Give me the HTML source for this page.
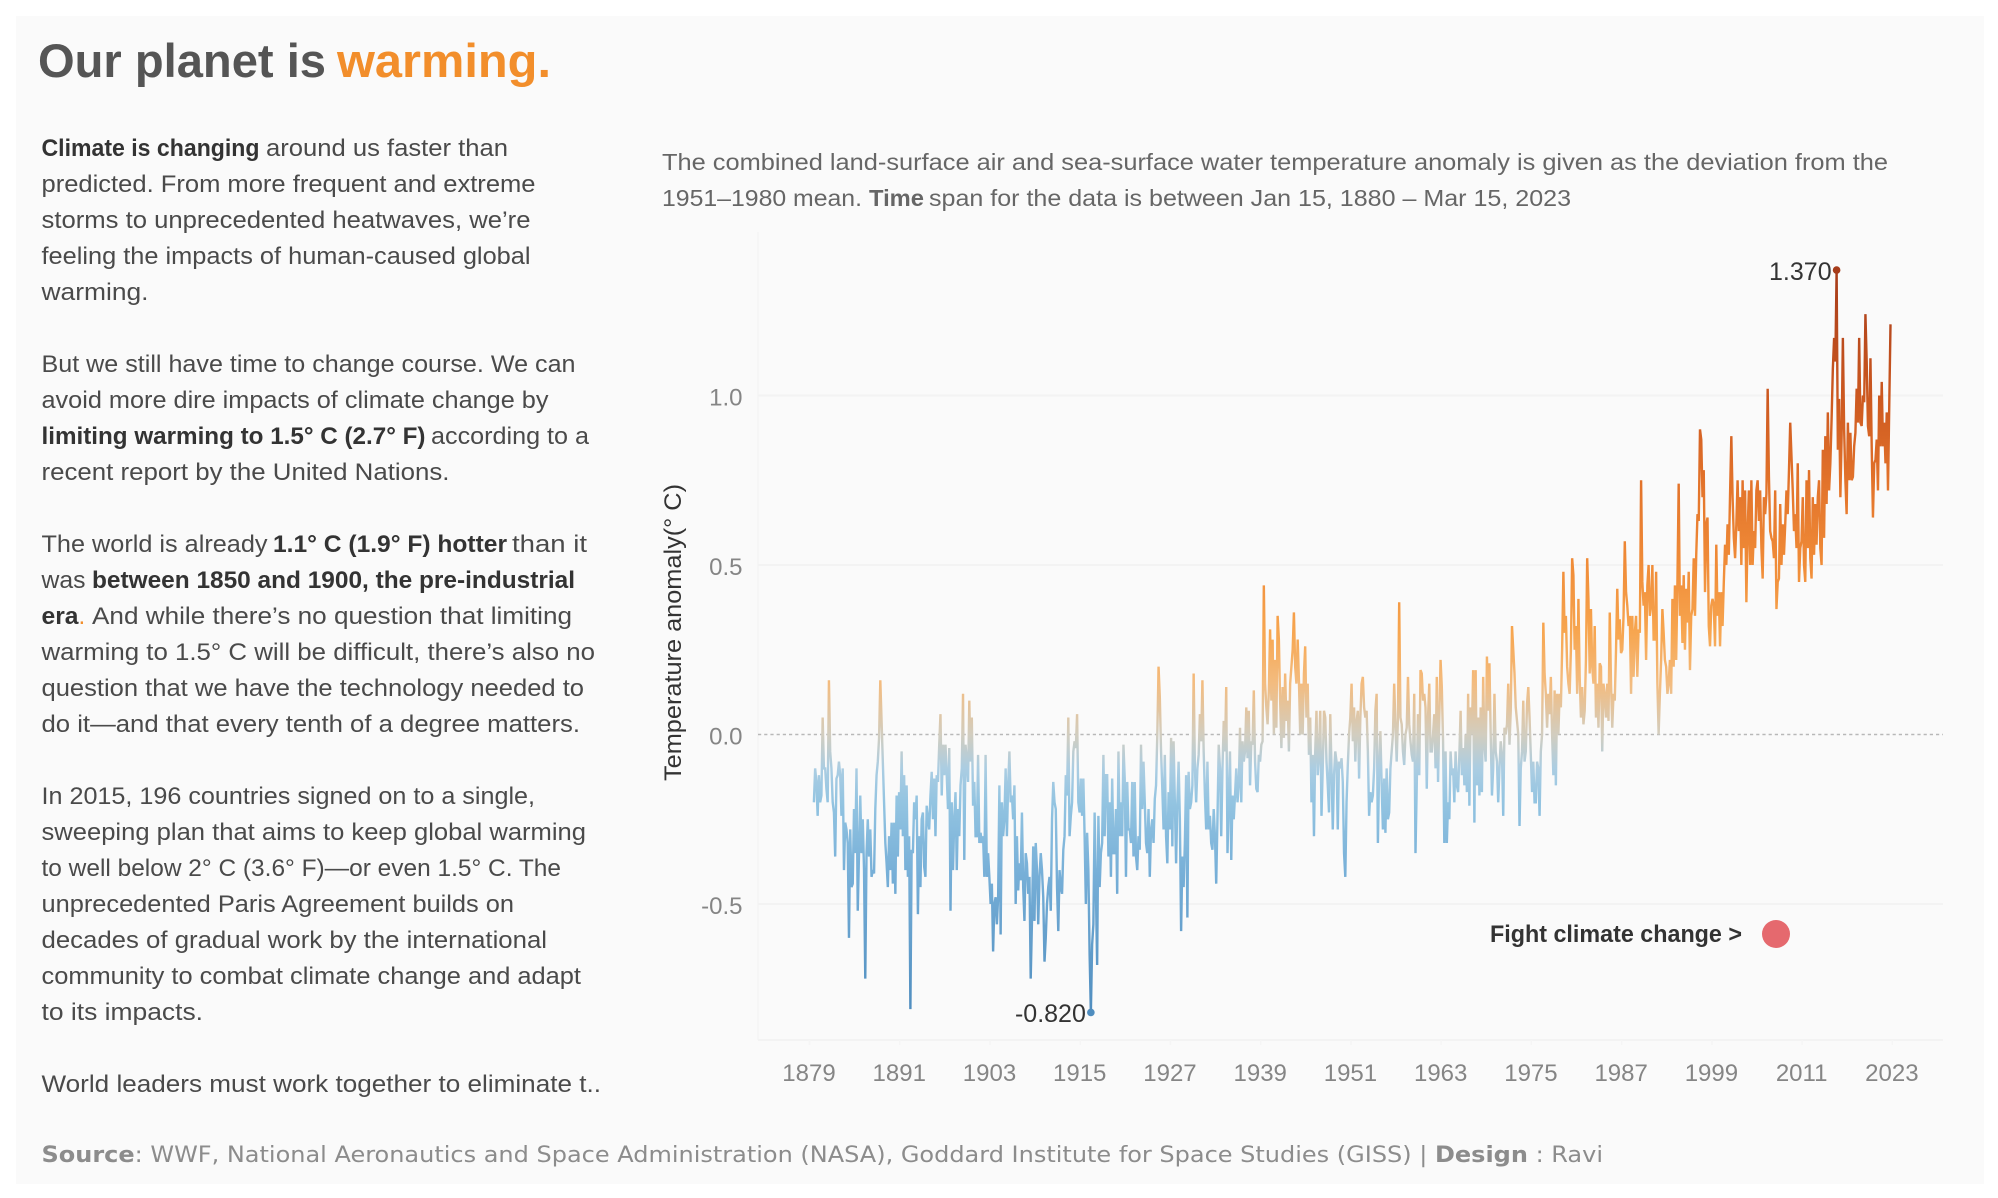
<!DOCTYPE html>
<html lang="en">
<head>
<meta charset="utf-8">
<title>Our planet is warming</title>
<style>
html,body{margin:0;padding:0;background:#fff;width:1998px;height:1198px;overflow:hidden}
svg{display:block;font-family:"Liberation Sans",Arial,sans-serif}
.b{font-size:24px;fill:#4a4a4a}
.s{font-size:24px;font-weight:700;fill:#333}
.sub{font-size:23px;fill:#666}
.subb{font-size:23px;fill:#666;font-weight:700}
.src{font-family:"DejaVu Sans",sans-serif;font-size:22.5px;fill:#8c8c8c}
.src tspan{font-weight:700}
</style>
</head>
<body>
<svg id="root" xmlns="http://www.w3.org/2000/svg" width="1998" height="1198" viewBox="0 0 1998 1198">
<rect x="16" y="16" width="1968" height="1168" fill="#fafafa"/>
<text x="38" y="77" font-size="47" font-weight="700" fill="#555" textLength="288" lengthAdjust="spacingAndGlyphs">Our planet is</text>
<text x="337" y="77" font-size="47" font-weight="700" fill="#f28e2b" textLength="214" lengthAdjust="spacingAndGlyphs">warming.</text>

<g>
<text class="s" x="41.5" y="156" textLength="218" lengthAdjust="spacingAndGlyphs">Climate is changing</text>
<text class="b" x="266" y="156" textLength="242" lengthAdjust="spacingAndGlyphs">around us faster than</text>
<text class="b" x="41.5" y="192" textLength="494" lengthAdjust="spacingAndGlyphs">predicted. From more frequent and extreme</text>
<text class="b" x="41.5" y="228" textLength="489" lengthAdjust="spacingAndGlyphs">storms to unprecedented heatwaves, we’re</text>
<text class="b" x="41.5" y="264" textLength="489" lengthAdjust="spacingAndGlyphs">feeling the impacts of human-caused global</text>
<text class="b" x="41.5" y="300" textLength="107" lengthAdjust="spacingAndGlyphs">warming.</text>
<text class="b" x="41.5" y="372" textLength="534" lengthAdjust="spacingAndGlyphs">But we still have time to change course. We can</text>
<text class="b" x="41.5" y="408" textLength="507" lengthAdjust="spacingAndGlyphs">avoid more dire impacts of climate change by</text>
<text class="s" x="41.5" y="444" textLength="384" lengthAdjust="spacingAndGlyphs">limiting warming to 1.5° C (2.7° F)</text>
<text class="b" x="431" y="444" textLength="158" lengthAdjust="spacingAndGlyphs">according to a</text>
<text class="b" x="41.5" y="480" textLength="408" lengthAdjust="spacingAndGlyphs">recent report by the United Nations.</text>
<text class="b" x="41.5" y="552" textLength="226" lengthAdjust="spacingAndGlyphs">The world is already</text>
<text class="s" x="273" y="552" textLength="234" lengthAdjust="spacingAndGlyphs">1.1° C (1.9° F) hotter</text>
<text class="b" x="512" y="552" textLength="75" lengthAdjust="spacingAndGlyphs">than it</text>
<text class="b" x="41.5" y="588" textLength="44" lengthAdjust="spacingAndGlyphs">was</text>
<text class="s" x="92" y="588" textLength="483" lengthAdjust="spacingAndGlyphs">between 1850 and 1900, the pre-industrial</text>
<text class="s" x="41.5" y="624" textLength="37" lengthAdjust="spacingAndGlyphs">era</text>
<text x="78.5" y="624" font-size="24" fill="#f28e2b">.</text>
<text class="b" x="92" y="624" textLength="480" lengthAdjust="spacingAndGlyphs">And while there’s no question that limiting</text>
<text class="b" x="41.5" y="660" textLength="553.5" lengthAdjust="spacingAndGlyphs">warming to 1.5° C will be difficult, there’s also no</text>
<text class="b" x="41.5" y="696" textLength="542.5" lengthAdjust="spacingAndGlyphs">question that we have the technology needed to</text>
<text class="b" x="41.5" y="732" textLength="538.5" lengthAdjust="spacingAndGlyphs">do it—and that every tenth of a degree matters.</text>
<text class="b" x="41.5" y="804" textLength="493.5" lengthAdjust="spacingAndGlyphs">In 2015, 196 countries signed on to a single,</text>
<text class="b" x="41.5" y="840" textLength="544.5" lengthAdjust="spacingAndGlyphs">sweeping plan that aims to keep global warming</text>
<text class="b" x="41.5" y="876" textLength="519.5" lengthAdjust="spacingAndGlyphs">to well below 2° C (3.6° F)—or even 1.5° C. The</text>
<text class="b" x="41.5" y="912" textLength="472.5" lengthAdjust="spacingAndGlyphs">unprecedented Paris Agreement builds on</text>
<text class="b" x="41.5" y="948" textLength="505.5" lengthAdjust="spacingAndGlyphs">decades of gradual work by the international</text>
<text class="b" x="41.5" y="984" textLength="539.5" lengthAdjust="spacingAndGlyphs">community to combat climate change and adapt</text>
<text class="b" x="41.5" y="1020" textLength="161.5" lengthAdjust="spacingAndGlyphs">to its impacts.</text>
<text class="b" x="41.5" y="1092" textLength="559.5" lengthAdjust="spacingAndGlyphs">World leaders must work together to eliminate t..</text>
</g>

<g>
<text class="sub" x="662" y="170" textLength="1226" lengthAdjust="spacingAndGlyphs">The combined land-surface air and sea-surface water temperature anomaly is given as the deviation from the</text>
<text class="sub" x="662" y="206" textLength="200" lengthAdjust="spacingAndGlyphs">1951–1980 mean.</text>
<text class="subb" x="869" y="206" textLength="55" lengthAdjust="spacingAndGlyphs">Time</text>
<text class="sub" x="929" y="206" textLength="642" lengthAdjust="spacingAndGlyphs">span for the data is between Jan 15, 1880 – Mar 15, 2023</text>
</g>

<g id="chart"></g>

<text transform="translate(681,632.5) rotate(-90)" text-anchor="middle" font-size="24" fill="#333" textLength="297" lengthAdjust="spacingAndGlyphs">Temperature anomaly(° C)</text>

<text x="1490" y="942" font-size="24" font-weight="700" fill="#333" textLength="252" lengthAdjust="spacingAndGlyphs">Fight climate change &gt;</text>
<circle cx="1776" cy="934" r="14" fill="#e5696e"/>

<text class="src" x="41.5" y="1162" textLength="1561.5" lengthAdjust="spacingAndGlyphs"><tspan>Source</tspan>: WWF, National Aeronautics and Space Administration (NASA), Goddard Institute for Space Studies (GISS) | <tspan>Design</tspan> : Ravi</text>
</svg>

<script>
// One reading per two months, starting Jan 1880 (°C).
const startYear = 1880;
const readingsPerYear = 6;
const xTickYears = [1879, 1891, 1903, 1915, 1927, 1939, 1951, 1963, 1975, 1987, 1999, 2011, 2023];
const yTickValues = [1.0, 0.5, 0.0, -0.5];
const anomalyValues = [
-.2,-.1,-.14,-.24,-.12,-.2,
-.18,.05,-.1,-.1,-.16,-.2,
.16,-.05,-.1,-.2,-.23,-.36,
-.13,-.12,-.08,-.12,-.24,-.1,
-.4,-.26,-.28,-.32,-.6,-.28,
-.45,-.44,-.22,-.35,-.1,-.52,
-.35,-.18,-.35,-.25,-.4,-.72,
-.35,-.25,-.36,-.28,-.42,-.4,
-.41,-.22,-.12,-.08,-.01,.16,
.04,-.08,-.2,-.32,-.38,-.45,
-.3,-.4,-.26,-.44,-.26,-.47,
-.18,-.36,-.17,-.28,-.05,-.3,
-.12,-.4,-.15,-.42,-.3,-.81,
-.34,-.35,-.2,-.25,-.18,-.53,
-.3,-.45,-.25,-.23,-.39,-.42,
-.21,-.25,-.28,-.18,-.11,-.25,
-.13,-.3,-.12,-.14,-.03,.06,
-.18,-.03,-.12,-.03,-.12,-.22,
-.04,-.52,-.2,-.4,-.25,-.17,
-.4,-.22,-.3,-.15,-.1,.12,
-.37,-.03,-.08,-.14,.1,-.08,
.05,-.21,-.14,-.3,-.3,-.06,
-.32,-.29,-.32,-.3,-.42,-.06,
-.42,-.35,-.42,-.5,-.44,-.64,
-.5,-.48,-.56,-.48,-.15,-.59,
-.2,-.3,-.25,-.1,-.3,-.15,
-.05,-.2,-.18,-.25,-.15,-.5,
-.3,-.46,-.38,-.43,-.23,-.45,
-.55,-.35,-.38,-.47,-.42,-.72,
-.55,-.33,-.55,-.32,-.4,-.56,
-.42,-.35,-.4,-.48,-.67,-.6,
-.5,-.45,-.42,-.52,-.25,-.14,
-.2,-.22,-.45,-.58,-.4,-.45,
-.47,-.34,-.3,-.12,-.18,.05,
-.3,-.24,-.2,-.05,-.02,-.04,
.06,-.2,-.23,-.13,-.24,-.13,
-.3,-.5,-.29,-.4,-.65,-.82,
-.62,-.56,-.23,-.46,-.68,-.24,
-.45,-.35,-.32,-.06,-.3,-.12,
-.12,-.36,-.2,-.42,-.13,-.35,
-.35,-.22,-.47,-.05,-.3,-.2,
-.3,-.03,-.13,-.42,-.14,-.28,
-.28,-.32,-.14,-.36,-.14,-.36,
-.4,-.3,-.34,-.03,-.22,-.08,
-.2,-.32,-.35,-.22,-.42,-.28,
-.25,-.32,-.19,-.15,0,.2,
.11,-.05,-.16,-.28,-.06,-.3,
-.38,-.17,-.28,-.01,-.33,-.02,
-.2,-.38,-.2,-.08,-.25,-.58,
-.36,-.45,-.32,-.12,-.54,-.11,
-.22,-.2,-.15,.18,-.1,-.2,
-.1,-.06,.06,-.02,.16,-.05,
-.18,-.28,-.08,-.28,-.24,-.32,
-.34,-.22,-.3,-.44,-.25,-.03,
-.1,-.3,-.1,.04,-.05,.14,
-.35,-.2,-.05,-.37,-.18,-.25,
-.18,-.1,-.2,-.15,.02,-.2,
-.02,-.08,-.05,.08,-.07,.07,
-.15,-.02,-.03,.13,-.08,-.16,
-.17,-.06,-.08,-.03,-.02,.44,
.15,.08,.03,.13,.31,.1,
.28,0,.22,.02,.35,.28,
.1,-.04,.14,-.01,.18,.04,
.1,-.05,.15,.2,.25,.36,
.2,.15,.28,.16,0,.15,
0,.18,.26,.05,.15,-.06,
.05,-.2,-.06,-.3,-.05,.07,
-.12,-.06,.07,-.24,-.1,.07,
.05,-.08,-.15,-.23,.06,-.1,
-.28,-.12,-.05,-.08,-.28,-.08,
-.1,-.07,-.14,-.35,-.42,-.2,
-.09,0,.05,.15,-.02,.08,
-.08,.04,.07,-.13,.05,.15,
.17,.08,.05,.07,-.05,-.24,
-.17,-.2,-.18,-.1,.07,.12,
-.32,-.1,.01,-.15,-.28,-.13,
-.29,-.1,-.25,-.23,-.1,-.05,
0,.15,.03,-.08,.05,.39,
.05,.03,-.05,-.09,0,.02,
.17,.03,-.02,-.06,-.08,.12,
-.35,-.15,.06,-.12,.19,.18,
.1,.12,.08,-.16,.05,.15,
-.05,-.05,0,.06,-.1,.17,
-.14,.05,.22,.14,-.02,-.32,
-.05,-.32,-.2,-.25,-.05,-.12,
-.1,-.2,-.05,-.15,-.17,-.06,
.07,-.12,-.04,-.15,0,-.17,
.12,-.21,.08,0,.19,-.26,
.19,-.15,.05,-.18,.08,-.17,
.17,-.03,-.08,.23,.07,.21,
0,-.18,-.1,.12,-.05,-.08,
-.2,-.1,-.02,-.06,-.24,.02,
0,.03,.15,-.03,.07,.32,
.25,.18,.08,.04,0,-.27,
-.1,-.05,.1,-.08,-.05,.09,
.14,.05,-.06,-.17,-.08,-.2,
-.2,-.08,-.1,-.24,-.05,0,
.33,.18,.12,.02,.12,.06,
.17,0,-.12,.13,-.15,.12,
0,.12,.08,.25,.48,.3,
.35,.2,.15,.12,.25,.52,
.47,.25,.32,.12,.4,.17,
.05,.14,.03,.07,.22,.52,
.4,.18,.37,.2,.15,.32,
.05,.15,.02,.21,.2,-.05,
.15,.12,.05,.15,.04,.36,
.15,.02,.12,.1,.25,.43,
.28,.34,.24,.25,.35,.57,
.42,.38,.32,.35,.12,.35,
.17,.3,.35,.17,.31,.3,
.75,.45,.38,.42,.22,.44,
.5,.35,.38,.5,.28,.28,
.48,.15,0,.12,.22,.37,
.3,.22,.2,.12,.15,.22,
.12,.4,.2,.44,.22,.45,
.74,.35,.44,.27,.47,.25,
.43,.33,.48,.19,.35,.37,
.52,.35,.53,.65,.63,.9,
.87,.7,.78,.42,.62,.64,
.32,.26,.38,.4,.38,.26,
.56,.35,.42,.26,.42,.32,
.45,.56,.5,.62,.53,.71,
.88,.7,.58,.52,.62,.75,
.6,.7,.5,.75,.55,.72,
.39,.6,.72,.5,.75,.5,
.6,.55,.72,.75,.63,.72,
.55,.46,.7,.65,.71,1.02,
.76,.6,.58,.57,.52,.72,
.37,.45,.46,.68,.5,.62,
.53,.62,.72,.65,.78,.92,
.82,.72,.6,.65,.55,.8,
.45,.55,.57,.7,.5,.45,
.75,.55,.78,.52,.46,.7,
.53,.68,.56,.7,.75,.55,
.5,.84,.58,.88,.68,.95,
.72,.8,.93,1.08,1.17,1.1,
1.37,.84,.99,.7,.88,1.17,
.9,.75,.65,.92,.75,.89,
.75,.76,.85,.89,1.02,.92,
1.17,.92,.91,1,.98,1.24,
1.1,.91,.88,1.11,.85,.64,
.8,.81,.87,.72,1,.85,
1.04,.85,.92,.8,.95,.72,
.97,1.21
];

const NS = 'http://www.w3.org/2000/svg';
const chart = document.getElementById('chart');
const plot = { left: 758, right: 1943, top: 232, bottom: 1040 };
const xScale = t => 809.5 + (t - 1879.5) * 7.52;
const yScale = v => 734.5 - 339 * v;
const readingTime = i => startYear + (i + 0.5) / readingsPerYear;

function svgEl(tag, attrs, parent) {
  const el = document.createElementNS(NS, tag);
  for (const k in attrs) el.setAttribute(k, attrs[k]);
  (parent || chart).appendChild(el);
  return el;
}

// Colour ramp keyed to the anomaly value
const ramp = [
  [1.37, '#a63c1a'], [1.0, '#cc5820'], [0.75, '#e2722a'], [0.5, '#f08c38'],
  [0.3, '#f7a650'], [0.15, '#f3bc80'], [0.0, '#d2cdbf'], [-0.1, '#abcde2'],
  [-0.2, '#93c4e1'], [-0.4, '#78b0d8'], [-0.82, '#4f8dbf']
];
const defs = svgEl('defs', {});
const grad = svgEl('linearGradient', {
  id: 'valueRamp', gradientUnits: 'userSpaceOnUse',
  x1: 0, x2: 0, y1: yScale(ramp[0][0]), y2: yScale(ramp[ramp.length - 1][0])
}, defs);
const rampSpan = ramp[0][0] - ramp[ramp.length - 1][0];
ramp.forEach(r => svgEl('stop', { offset: (ramp[0][0] - r[0]) / rampSpan, 'stop-color': r[1] }, grad));

// Axis frame
const yAxisLine = svgEl('line', { x1: plot.left, x2: plot.left, y1: plot.top, y2: plot.bottom, stroke: '#f5f5f5', 'stroke-width': 1.5 });


const xAxisLine = svgEl('line', { x1: plot.left, x2: plot.right, y1: plot.bottom, y2: plot.bottom, stroke: '#f3f3f3', 'stroke-width': 2 });



// Y grid + labels
yTickValues.forEach(v => {
  if (v === 0) {
    const zero = svgEl('line', { x1: plot.left, x2: plot.right, y1: yScale(0), y2: yScale(0), stroke: '#b8b8b8', 'stroke-width': 1.5, 'stroke-dasharray': '3.2 3' });
    
    
  } else {
    const grid = svgEl('line', { x1: plot.left, x2: plot.right, y1: yScale(v), y2: yScale(v), stroke: '#f3f3f3', 'stroke-width': 2 });
    
    
  }
  const lab = svgEl('text', { x: 742.5, y: yScale(v) + 10, 'text-anchor': 'end', 'font-size': 24, fill: '#858585' });
  
  
  lab.textContent = v.toFixed(1);
});

// X ticks + labels
xTickYears.forEach(y => {
  const px = xScale(y + 0.5);
  const tick = svgEl('line', { x1: px, x2: px, y1: plot.bottom, y2: plot.bottom + 5, stroke: '#f5f5f5', 'stroke-width': 1.5 });
  
  
  const lab = svgEl('text', { x: px - 0.5, y: 1081, 'text-anchor': 'middle', 'font-size': 24, fill: '#858585' });
  
  
  lab.textContent = y;
});

// Series line
const pathD = anomalyValues.map((v, i) => (i ? 'L' : 'M') + xScale(readingTime(i)).toFixed(2) + ' ' + yScale(v).toFixed(2)).join('');
const line = svgEl('path', { d: pathD, fill: 'none', stroke: 'url(#valueRamp)', 'stroke-width': 2.4, 'stroke-linejoin': 'miter', 'stroke-miterlimit': 2 });



// Extreme markers
const maxValue = Math.max(...anomalyValues);
const minValue = Math.min(...anomalyValues);
const maxPt = { x: xScale(readingTime(anomalyValues.indexOf(maxValue))), y: yScale(maxValue) };
const minPt = { x: xScale(readingTime(anomalyValues.indexOf(minValue))), y: yScale(minValue) };

const maxDot = svgEl('circle', { cx: maxPt.x, cy: maxPt.y, r: 3.8, fill: '#a63c1a' });


const minDot = svgEl('circle', { cx: minPt.x, cy: minPt.y, r: 3.8, fill: '#4f8dbf' });



const maxLabel = svgEl('text', { x: maxPt.x - 5, y: maxPt.y + 10, 'text-anchor': 'end', 'font-size': 25, fill: '#333' });


maxLabel.textContent = maxValue.toFixed(3);
const minLabel = svgEl('text', { x: minPt.x - 5, y: minPt.y + 9.5, 'text-anchor': 'end', 'font-size': 25, fill: '#333' });


minLabel.textContent = minValue.toFixed(3);
</script>
</body>
</html>
